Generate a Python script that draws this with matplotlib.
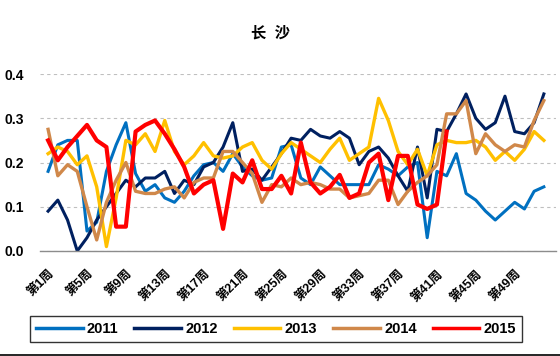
import matplotlib.pyplot as plt
from matplotlib.lines import Line2D

plt.rcParams['font.family'] = ['Liberation Sans', 'Noto Sans CJK SC', 'DejaVu Sans']

weeks = list(range(1, 53))
tick_weeks = list(range(1, 53, 4))
tick_labels = ['第%d周' % w for w in tick_weeks]

y2011 = [0.18, 0.24, 0.25, 0.25, 0.045, 0.065, 0.18, 0.24, 0.29, 0.175,
         0.135, 0.15, 0.12, 0.11, 0.135, 0.17, 0.195, 0.2, 0.18, 0.22,
         0.19, 0.17, 0.16, 0.165, 0.235, 0.24, 0.165, 0.15, 0.19, 0.17,
         0.15, 0.15, 0.15, 0.15, 0.195, 0.185, 0.17, 0.19, 0.2, 0.03,
         0.18, 0.17, 0.22, 0.13, 0.115, 0.09, 0.07, 0.09, 0.11, 0.095,
         0.135, 0.145]
y2012 = [0.09, 0.115, 0.07, 0.0, 0.03, 0.07, 0.1, 0.13, 0.16, 0.145,
         0.165, 0.165, 0.18, 0.13, 0.16, 0.15, 0.19, 0.2, 0.235, 0.29,
         0.18, 0.185, 0.16, 0.19, 0.22, 0.255, 0.25, 0.275, 0.26, 0.255,
         0.27, 0.255, 0.195, 0.225, 0.235, 0.21, 0.17, 0.135, 0.235, 0.12,
         0.275, 0.27, 0.31, 0.355, 0.3, 0.275, 0.29, 0.35, 0.27, 0.265,
         0.29, 0.355]
y2013 = [0.22, 0.235, 0.225, 0.195, 0.215, 0.145, 0.01, 0.12, 0.25, 0.24,
         0.265, 0.225, 0.295, 0.225, 0.195, 0.215, 0.245, 0.215, 0.21, 0.215,
         0.235, 0.245, 0.205, 0.185, 0.22, 0.245, 0.23, 0.215, 0.2, 0.23,
         0.255, 0.205, 0.22, 0.235, 0.345, 0.295, 0.225, 0.195, 0.23, 0.17,
         0.24, 0.25, 0.245, 0.245, 0.25, 0.235, 0.205, 0.225, 0.205, 0.23,
         0.27, 0.25]
y2014 = [0.275, 0.17, 0.195, 0.18, 0.1, 0.025, 0.11, 0.16, 0.2, 0.135,
         0.13, 0.13, 0.14, 0.145, 0.12, 0.155, 0.165, 0.165, 0.225, 0.225,
         0.2, 0.175, 0.11, 0.15, 0.145, 0.165, 0.15, 0.155, 0.15, 0.14,
         0.14, 0.12, 0.125, 0.13, 0.16, 0.16, 0.105, 0.135, 0.155, 0.17,
         0.195, 0.31, 0.31, 0.34, 0.22, 0.265, 0.24, 0.225, 0.24, 0.235,
         0.295, 0.34]
y2015 = [0.25, 0.205, 0.235, 0.26, 0.285, 0.25, 0.235, 0.055, 0.055, 0.27,
         0.285, 0.295, 0.265, 0.23, 0.19, 0.13, 0.15, 0.16, 0.05, 0.175,
         0.155, 0.205, 0.14, 0.14, 0.17, 0.13, 0.245, 0.155, 0.13, 0.145,
         0.172, 0.12, 0.13, 0.2, 0.22, 0.115, 0.215, 0.215, 0.105, 0.095,
         0.105, 0.27]

series = [
    ('2011', y2011, '#0070C0', 2.2),
    ('2012', y2012, '#002060', 2.2),
    ('2013', y2013, '#FFC000', 2.4),
    ('2014', y2014, '#D0884A', 2.4),
    ('2015', y2015, '#FF0000', 3.0),
]

fig = plt.figure(figsize=(5.6, 3.56), dpi=100)
ax = fig.add_axes([0.072, 0.295, 0.92, 0.497])

for name, vals, color, lw in series:
    ax.plot(weeks[:len(vals)], vals, color=color, linewidth=lw, label=name)

ax.set_ylim(0, 0.4)
ax.set_xlim(0.2, 53.2)
ax.set_yticks([0.0, 0.1, 0.2, 0.3, 0.4])
ax.set_yticklabels(['0.0', '0.1', '0.2', '0.3', '0.4'], fontsize=10, fontweight='bold')
ax.set_xticks(tick_weeks)
ax.set_xticklabels(tick_labels, rotation=45, ha='right', va='top',
                   fontsize=9, fontweight='bold', rotation_mode='anchor')
ax.tick_params(axis='y', length=0, pad=12)
ax.tick_params(axis='x', length=0, pad=12)

ax.grid(axis='y', color='#BFBFBF', linestyle=(0, (3, 3)), linewidth=0.8)
for s in ['top', 'right', 'left']:
    ax.spines[s].set_visible(False)
ax.spines['bottom'].set_color('#8C8C8C')
ax.spines['bottom'].set_linewidth(1.0)

fig.text(0.483, 0.907, '长  沙', ha='center', va='center', fontsize=11, fontweight='bold')

leg = fig.legend(loc='lower left', bbox_to_anchor=(30 / 560, 14 / 356, 492 / 560, 32 / 356),
                 mode='expand', ncol=5, frameon=True, fancybox=False,
                 handlelength=3.2, columnspacing=1.0, handletextpad=0.3,
                 prop={'weight': 'bold', 'size': 10.5}, borderaxespad=0)
leg.get_frame().set_edgecolor('black')
leg.get_frame().set_linewidth(1.0)
for line in leg.get_lines():
    line.set_linewidth(2.5)

fig.add_artist(Line2D([0, 1], [0.003, 0.003], color='black', linewidth=1.2,
                      transform=fig.transFigure))

fig.savefig('out.png', dpi=100)
